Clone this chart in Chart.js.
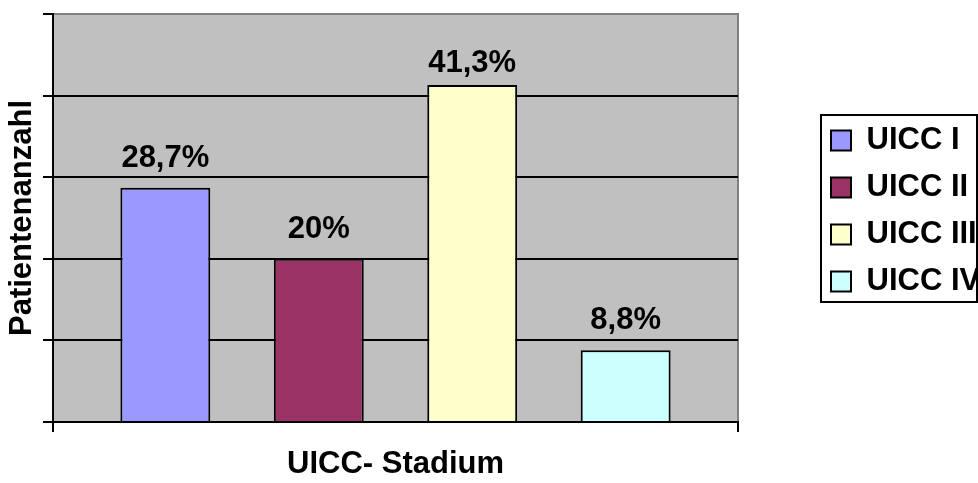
<!DOCTYPE html>
<html>
<head>
<meta charset="utf-8">
<script src="https://cdn.jsdelivr.net/npm/chart.js@4/dist/chart.umd.min.js"></script>
<style>
  html, body { margin: 0; padding: 0; background: #ffffff; }
  #wrap { width: 978px; height: 483px; position: relative; }
</style>
</head>
<body>
<div id="wrap"><canvas id="c" width="978" height="483"></canvas></div>
<script>
// ---- data ----
const categories = ['UICC I', 'UICC II', 'UICC III', 'UICC IV'];
const values = [28.7, 20, 41.3, 8.8];
const valueLabels = ['28,7%', '20%', '41,3%', '8,8%'];
const barColors = ['#9999FF', '#993366', '#FFFFCC', '#CCFFFF'];
const xLabels = [''];
const xTitle = 'UICC- Stadium';
const yTitle = 'Patientenanzahl';
const yMin = 0, yMax = 50, yStep = 10;

const FONT = '"Liberation Sans", Arial, sans-serif';
const FS = 31;

const datasets = categories.map((name, i) => ({
  label: name,
  data: [values[i]],
  backgroundColor: barColors[i],
  borderColor: '#000000',
  borderWidth: 2,
  borderSkipped: 'start',
  categoryPercentage: 0.896,
  barPercentage: 0.586
}));

const plotBg = {
  id: 'plotBg',
  beforeDraw(chart) {
    const {ctx, chartArea: a} = chart;
    ctx.save();
    ctx.fillStyle = '#C0C0C0';
    ctx.fillRect(a.left, a.top, a.right - a.left, a.bottom - a.top);
    ctx.strokeStyle = '#808080';
    ctx.lineWidth = 2;
    ctx.beginPath();
    ctx.moveTo(a.left, a.top);
    ctx.lineTo(a.right, a.top);
    ctx.lineTo(a.right, a.bottom);
    ctx.stroke();
    ctx.restore();
  }
};

const valueLabelPlugin = {
  id: 'valueLabels',
  afterDatasetsDraw(chart) {
    const {ctx, chartArea} = chart;
    ctx.save();
    ctx.font = 'bold ' + FS + 'px ' + FONT;
    ctx.fillStyle = '#000000';
    ctx.textAlign = 'center';
    ctx.textBaseline = 'alphabetic';
    chart.data.datasets.forEach((ds, i) => {
      const bar = chart.getDatasetMeta(i).data[0];
      const yBase = Math.max(bar.y - 21, chartArea.top + 58);
      ctx.fillText(valueLabels[i], bar.x, yBase);
    });
    ctx.restore();
  }
};

const legendBox = {
  id: 'legendBox',
  afterDraw(chart) {
    const lg = chart.legend;
    if (!lg || !lg.legendHitBoxes || !lg.legendHitBoxes.length) return;
    const hb = lg.legendHitBoxes;
    const first = hb[0], last = hb[hb.length - 1];
    const {ctx} = chart;
    ctx.save();
    ctx.strokeStyle = '#000000';
    ctx.lineWidth = 2;
    const x = first.left - 10;
    const y = first.top - 10;
    const bottom = last.top + last.height + 5;
    ctx.strokeRect(x, y, chart.width - 1 - x, bottom - y);
    ctx.restore();
  }
};

new Chart(document.getElementById('c'), {
  type: 'bar',
  data: { labels: xLabels, datasets },
  plugins: [plotBg, valueLabelPlugin, legendBox],
  options: {
    responsive: false,
    animation: false,
    layout: { padding: { top: 14, left: 0, right: 0, bottom: 0 } },
    scales: {
      x: {
        offset: true,
        grid: { display: true, drawOnChartArea: false, offset: true, color: '#000000', tickColor: '#000000', tickLength: 10, lineWidth: 2 },
        border: { display: true, color: '#000000', width: 2 },
        ticks: { display: false },
        title: { display: true, text: xTitle, color: '#000000', font: { family: FONT, size: FS, weight: 'bold', lineHeight: 1.2 }, padding: { top: 0, bottom: 0 } },
        afterFit(s) { s.height = 61; }
      },
      y: {
        min: yMin, max: yMax,
        ticks: { display: false, stepSize: yStep },
        grid: {
          color: (c) => (c.tick && c.tick.value === yMax) ? '#808080' : '#000000',
          tickColor: '#000000', tickLength: 10, lineWidth: 2, tickWidth: 2
        },
        border: { display: true, color: '#000000', width: 2 },
        title: { display: true, text: yTitle, color: '#000000', font: { family: FONT, size: FS, weight: 'bold', lineHeight: 1.2 }, padding: { top: 4, bottom: 0 } },
        afterFit(s) { s.width = 53; }
      },
      yR: {
        type: 'linear', position: 'right', display: true,
        grid: { display: false, drawTicks: false },
        border: { display: false },
        ticks: { display: false },
        afterFit(s) { s.width = 77; }
      }
    },
    plugins: {
      legend: {
        position: 'right',
        align: 'start',
        maxWidth: 163,
        title: { display: true, text: ' ', font: { size: 10, lineHeight: 1 }, padding: { top: 85, bottom: 0 } },
        labels: {
          boxWidth: 20, boxHeight: 20, padding: 16,
          color: '#000000',
          font: { family: FONT, size: FS, weight: 'bold' },
          generateLabels(chart) {
            return chart.data.datasets.map((ds, i) => ({
              text: ds.label, fillStyle: ds.backgroundColor, strokeStyle: '#000000',
              lineWidth: 2, hidden: false, datasetIndex: i, fontColor: '#000000'
            }));
          }
        }
      },
      tooltip: { enabled: false }
    }
  }
});
</script>
</body>
</html>
